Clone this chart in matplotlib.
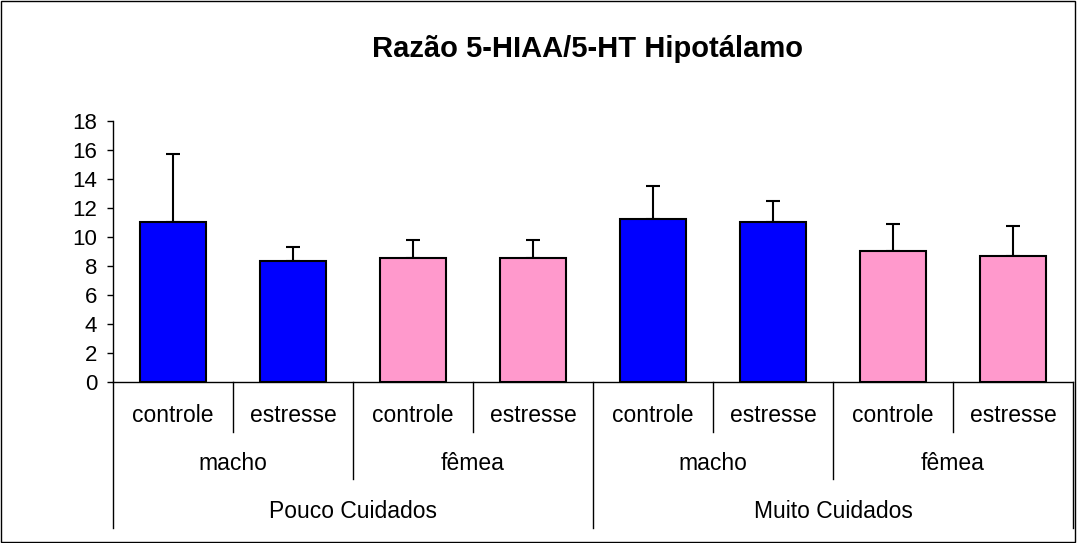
import matplotlib
matplotlib.use("Agg")
import matplotlib.pyplot as plt
from matplotlib.patches import Rectangle

plt.rcParams['font.family'] = ['Liberation Sans', 'DejaVu Sans']

# data
tratamento = ["controle", "estresse", "controle", "estresse",
              "controle", "estresse", "controle", "estresse"]
sexo = ["macho", "fêmea", "macho", "fêmea"]
cuidado = ["Pouco Cuidados", "Muito Cuidados"]
media = [11.0, 8.33, 8.56, 8.56, 11.25, 11.0, 9.04, 8.70]
erro = [4.68, 0.99, 1.22, 1.22, 2.23, 1.49, 1.84, 2.04]

cor_sexo = {"macho": "#0000FF", "fêmea": "#FF99CC"}
cores = [cor_sexo[sexo[i // 2]] for i in range(len(media))]

fig = plt.figure(figsize=(10.77, 5.43), dpi=100)
ax = fig.add_axes([113 / 1077, 1 - 382 / 543, 960 / 1077, (382 - 120.7) / 543])

x = list(range(len(media)))
ax.bar(x, media, width=0.55, color=cores, edgecolor="black", linewidth=1.5, zorder=3)
ax.errorbar(x, media, yerr=[[0] * len(erro), erro], fmt="none", ecolor="black",
            elinewidth=1.5, capsize=4.7, capthick=1.5, zorder=2)

ax.set_xlim(-0.5, 7.5)
ax.set_ylim(0, 18)
ax.set_yticks(range(0, 19, 2))
ax.tick_params(axis="y", labelsize=16, length=4.5, width=1, direction="out", pad=7)
ax.set_xticks([])
for s in ["top", "right"]:
    ax.spines[s].set_visible(False)
ax.spines["bottom"].set_linewidth(1)
ax.spines["left"].set_linewidth(1)

# multi-level category axis
tr = ax.get_xaxis_transform()
h = 261.3
y1, y2, y3 = -50 / h, -97 / h, -146 / h
t1, t2, t3 = -34 / h, -81 / h, -129 / h
for i in range(len(media) + 1):
    xb = i - 0.5
    if i % 4 == 0:
        yb = y3
    elif i % 2 == 0:
        yb = y2
    else:
        yb = y1
    ax.plot([xb, xb], [0, yb], color="black", lw=1, transform=tr, clip_on=False)

for i, lab in enumerate(tratamento):
    ax.text(i, t1, lab, transform=tr, ha="center", va="center", fontsize=16.5)
for j, lab in enumerate(sexo):
    ax.text(2 * j + 0.5, t2, lab, transform=tr, ha="center", va="center", fontsize=16.5)
for k, lab in enumerate(cuidado):
    ax.text(4 * k + 1.5, t3, lab, transform=tr, ha="center", va="center", fontsize=16.5)

fig.text(587 / 1077, 1 - 57 / 543, "Razão 5-HIAA/5-HT Hipotálamo",
         ha="center", va="baseline", fontsize=21, fontweight="bold")

fig.patches.append(Rectangle((0.001, 0.002), 0.997, 0.996, transform=fig.transFigure,
                             fill=False, edgecolor="black", linewidth=1))

fig.savefig("out.png", dpi=100)
